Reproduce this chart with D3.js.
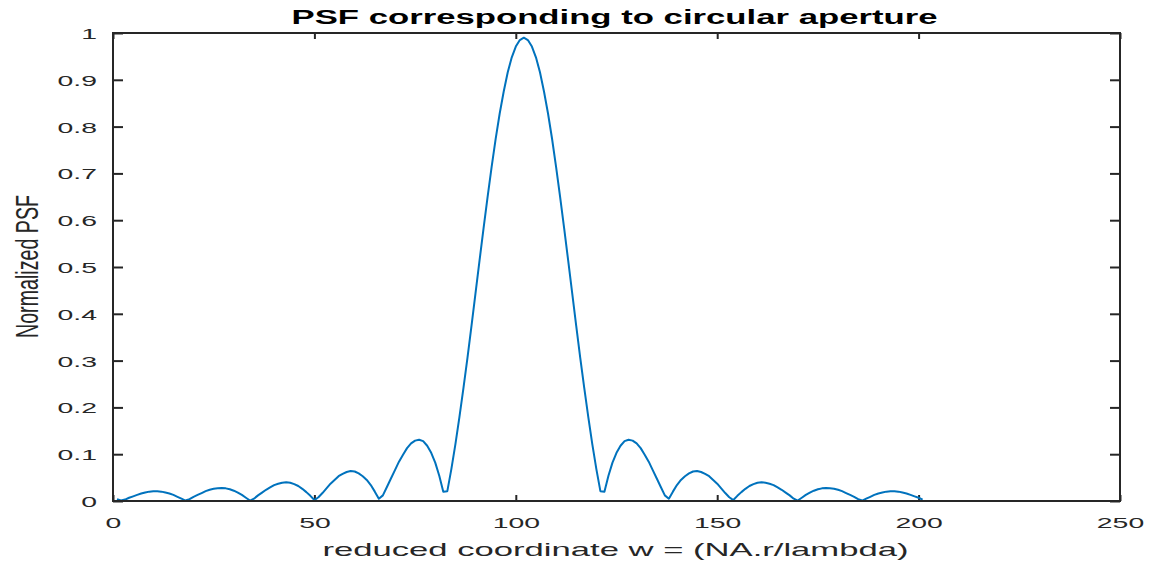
<!DOCTYPE html>
<html>
<head>
<meta charset="utf-8">
<script src="https://cdn.jsdelivr.net/npm/d3@7"></script>
<style>
  body { margin: 0; background: #fff; }
  svg { display: block; }
  text { font-family: "Liberation Sans", Arial, Helvetica, sans-serif; fill: #262626; }
</style>
</head>
<body>
<svg id="canvas"></svg>
<script>
/***********************************************************************/
// Data

var titleText = 'PSF corresponding to circular aperture';
var xLabelText = 'reduced coordinate w = (NA.r/lambda)';
var yLabelText = 'Normalized PSF';

// sample grid w = 1:201
var wValues = d3.range(1, 202);

var psfValues = [
  0.004, 0.001, 0.003, 0.007, 0.010, 0.013, 0.016, 0.018, 0.020, 0.021,
  0.021, 0.020, 0.018, 0.016, 0.013, 0.009, 0.005, 0.001, 0.004, 0.009,
  0.013, 0.017, 0.021, 0.024, 0.026, 0.027, 0.028, 0.027, 0.025, 0.022,
  0.018, 0.013, 0.007, 0.001, 0.005, 0.012, 0.018, 0.024, 0.029, 0.034,
  0.037, 0.039, 0.040, 0.039, 0.036, 0.032, 0.026, 0.019, 0.011, 0.002,
  0.008, 0.017, 0.027, 0.037, 0.045, 0.053, 0.058, 0.062, 0.064, 0.063,
  0.059, 0.053, 0.045, 0.034, 0.020, 0.005, 0.012, 0.030, 0.048, 0.066,
  0.084, 0.099, 0.113, 0.123, 0.129, 0.131, 0.128, 0.118, 0.103, 0.082,
  0.054, 0.020, 0.021, 0.068, 0.121, 0.179, 0.241, 0.306, 0.374, 0.444,
  0.514, 0.583, 0.650, 0.714, 0.774, 0.828, 0.875, 0.916, 0.948, 0.971,
  0.985, 0.990,
  0.985, 0.971, 0.948, 0.916, 0.875, 0.828, 0.774, 0.714, 0.650, 0.583,
  0.514, 0.444, 0.374, 0.306, 0.241, 0.179, 0.121, 0.068, 0.021, 0.020,
  0.054, 0.082, 0.103, 0.118, 0.128, 0.131, 0.129, 0.123, 0.113, 0.099,
  0.084, 0.066, 0.048, 0.030, 0.012, 0.005, 0.020, 0.034, 0.045, 0.053,
  0.059, 0.063, 0.064, 0.062, 0.058, 0.053, 0.045, 0.037, 0.027, 0.017,
  0.008, 0.002, 0.011, 0.019, 0.026, 0.032, 0.036, 0.039, 0.040, 0.039,
  0.037, 0.034, 0.029, 0.024, 0.018, 0.012, 0.005, 0.001, 0.007, 0.013,
  0.018, 0.022, 0.025, 0.027, 0.028, 0.027, 0.026, 0.024, 0.021, 0.017,
  0.013, 0.009, 0.004, 0.001, 0.005, 0.009, 0.013, 0.016, 0.018, 0.020,
  0.021, 0.021, 0.020, 0.018, 0.016, 0.013, 0.010, 0.007, 0.003
];

var xTicks = [0, 50, 100, 150, 200, 250];
var yTicks = [0, 0.1, 0.2, 0.3, 0.4, 0.5, 0.6, 0.7, 0.8, 0.9, 1];
var yTickLabels = ['0', '0.1', '0.2', '0.3', '0.4', '0.5', '0.6', '0.7', '0.8', '0.9', '1'];

/***********************************************************************/
// Layout

var width = 1152, height = 563;
var plot = { left: 113, right: 1120, top: 33, bottom: 501 };
var stretch = 1.83;   // the figure was exported stretched horizontally
var axisColor = '#262626';
var lineColor = '#0072BD';

var svg = d3.select('#canvas').attr('width', width).attr('height', height);

var xScale = d3.scaleLinear().domain([0, 250]).range([plot.left, plot.right]);
var yScale = d3.scaleLinear().domain([0, 1]).range([plot.bottom, plot.top]);

/***********************************************************************/
// Axes

var xAxis = svg.append('g')
  .attr('transform', 'translate(0,' + plot.bottom + ')')
  .call(d3.axisBottom(xScale).tickValues(xTicks).tickSizeInner(-6).tickSizeOuter(0).tickFormat(d3.format('d')));

xAxis.selectAll('text')
  .attr('y', 16).attr('dy', '0.71em')
  .style('font-size', '15.5px')
  .attr('transform', 'scale(' + stretch + ',1)');

var yAxis = svg.append('g')
  .attr('transform', 'translate(' + plot.left + ',0)')
  .call(d3.axisLeft(yScale).tickValues(yTicks).tickSizeInner(-10).tickSizeOuter(0).tickFormat((d, i) => yTickLabels[i]));

yAxis.selectAll('text')
  .attr('x', -16 / stretch).attr('dy', '0.36em')
  .style('font-size', '15.5px')
  .attr('transform', 'scale(' + stretch + ',1)');

svg.append('g')
  .attr('transform', 'translate(0,' + plot.top + ')')
  .call(d3.axisTop(xScale).tickValues(xTicks).tickSizeInner(-6).tickSizeOuter(0).tickFormat(''));

svg.append('g')
  .attr('transform', 'translate(' + plot.right + ',0)')
  .call(d3.axisRight(yScale).tickValues(yTicks).tickSizeInner(-10).tickSizeOuter(0).tickFormat(''));

svg.selectAll('.domain').remove();
svg.selectAll('.tick line').attr('stroke', axisColor).attr('stroke-width', 2);

/***********************************************************************/
// Curve

var line = d3.line()
  .x((d, i) => xScale(wValues[i]))
  .y(d => yScale(d));

svg.append('path')
  .datum(psfValues)
  .attr('d', line)
  .attr('fill', 'none')
  .attr('stroke', lineColor)
  .attr('stroke-width', 2)
  .attr('stroke-linejoin', 'round');

// box on top of the curve
svg.append('rect')
  .attr('x', plot.left).attr('y', plot.top)
  .attr('width', plot.right - plot.left).attr('height', plot.bottom - plot.top)
  .attr('fill', 'none').attr('stroke', axisColor).attr('stroke-width', 2);

/***********************************************************************/
// Labels

svg.append('text')
  .attr('x', 614.5).attr('y', 24)
  .attr('text-anchor', 'middle')
  .attr('textLength', 646).attr('lengthAdjust', 'spacingAndGlyphs')
  .style('font-size', '19.5px').style('font-weight', 'bold').style('fill', '#000')
  .text(titleText);

svg.append('text')
  .attr('x', 615.5).attr('y', 556)
  .attr('text-anchor', 'middle')
  .attr('textLength', 586).attr('lengthAdjust', 'spacingAndGlyphs')
  .style('font-size', '19px')
  .text(xLabelText);

svg.append('text')
  .attr('transform', 'translate(37.5,266.5) scale(1.6,1) rotate(-90)')
  .attr('text-anchor', 'middle')
  .attr('textLength', 143).attr('lengthAdjust', 'spacingAndGlyphs')
  .style('font-size', '19.6px')
  .text(yLabelText);
</script>
</body>
</html>
